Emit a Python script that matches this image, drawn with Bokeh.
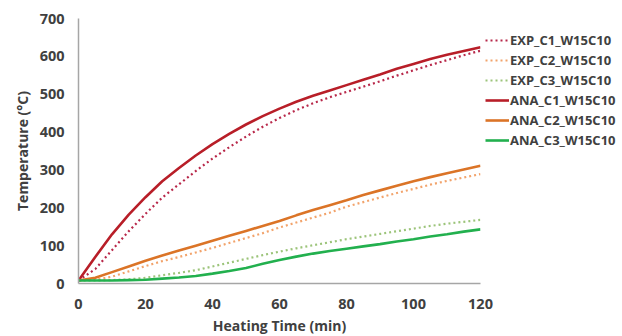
from bokeh.plotting import figure
from bokeh.models import Legend, LegendItem, Range1d, FixedTicker
from bokeh.embed import file_html
from bokeh.resources import INLINE

time = [0, 5, 10, 15, 20, 25, 30, 35, 40, 45, 50, 55, 60, 65, 70, 75, 80, 85, 90, 95, 100, 105, 110, 115, 120]

exp_c1 = [8, 38, 88, 138, 184, 227, 262, 297, 330, 360, 388, 414, 437, 458, 476, 492, 506, 520, 534, 549, 563, 577, 590, 603, 615]
exp_c2 = [8, 10, 18, 32, 46, 59, 70, 82, 94, 107, 120, 133, 148, 161, 174, 187, 203, 215, 227, 239, 250, 261, 271, 280, 289]
exp_c3 = [8, 8, 9, 11, 15, 22, 28, 35, 45, 55, 65, 75, 84, 93, 101, 109, 117, 124, 131, 138, 145, 152, 158, 163, 168]
ana_c1 = [8, 70, 130, 182, 228, 270, 305, 338, 368, 395, 420, 442, 462, 480, 496, 510, 524, 538, 552, 567, 580, 593, 604, 614, 624]
ana_c2 = [8, 15, 30, 45, 60, 74, 87, 100, 113, 126, 139, 152, 165, 180, 194, 207, 220, 234, 246, 258, 270, 281, 291, 301, 311]
ana_c3 = [8, 8, 8, 9, 10, 13, 16, 20, 26, 33, 41, 52, 62, 71, 79, 86, 92, 98, 104, 111, 117, 124, 130, 137, 143]

series_names = ["EXP_C1_W15C10", "EXP_C2_W15C10", "EXP_C3_W15C10",
                "ANA_C1_W15C10", "ANA_C2_W15C10", "ANA_C3_W15C10"]
x_ticks = [0, 20, 40, 60, 80, 100, 120]
y_ticks = [0, 100, 200, 300, 400, 500, 600, 700]

FONT = "Open Sans"
TXT = "#404040"

p = figure(output_backend="svg", toolbar_location=None,
           frame_width=402, frame_height=265,
           x_range=Range1d(0, 120), y_range=Range1d(0, 700),
           min_border_left=78, min_border_top=18, min_border_bottom=0,
           min_border_right=0)
p.background_fill_color = "white"
p.outline_line_color = None
p.xgrid.visible = False
p.ygrid.visible = False

styles = [
    (exp_c1, "#B8284A", "dotted"),
    (exp_c2, "#F2A36B", "dotted"),
    (exp_c3, "#9CC47A", "dotted"),
    (ana_c1, "#B81E28", "solid"),
    (ana_c2, "#DB7427", "solid"),
    (ana_c3, "#22B04E", "solid"),
]
items = []
for (vals, col, kind), name in zip(styles, series_names):
    if kind == "dotted":
        r = p.line(time, vals, line_color=col, line_width=2.2, line_dash="2 3")
    else:
        r = p.line(time, vals, line_color=col, line_width=2.6)
    items.append(LegendItem(label=name, renderers=[r]))

for ax in (p.xaxis[0], p.yaxis[0]):
    ax.axis_line_color = "#A6A6A6"
    ax.axis_line_width = 1.5
    ax.major_tick_line_color = None
    ax.minor_tick_line_color = None
    ax.major_tick_out = 0
    ax.major_tick_in = 0
    ax.minor_tick_out = 0
    ax.minor_tick_in = 0
    ax.major_label_text_font = FONT
    ax.major_label_text_font_style = "bold"
    ax.major_label_text_font_size = "14.5px"
    ax.major_label_text_color = TXT
    ax.axis_label_text_font = FONT
    ax.axis_label_text_font_style = "bold"
    ax.axis_label_text_font_size = "14px"
    ax.axis_label_text_color = TXT

p.xaxis[0].ticker = FixedTicker(ticks=x_ticks)
p.yaxis[0].ticker = FixedTicker(ticks=y_ticks)
p.xaxis[0].axis_label = "Heating Time (min)"
p.yaxis[0].axis_label = "Temperature (°C)"
p.xaxis[0].major_label_standoff = 15
p.yaxis[0].major_label_standoff = 14
p.xaxis[0].axis_label_standoff = 4
p.yaxis[0].axis_label_standoff = 5

legend = Legend(items=items, location=(5, 133))
legend.border_line_color = None
legend.background_fill_alpha = 0
legend.padding = 0
legend.margin = 0
legend.spacing = 0
legend.glyph_width = 24
legend.glyph_height = 20
legend.label_height = 20
legend.label_standoff = 1
legend.label_text_font = FONT
legend.label_text_font_style = "bold"
legend.label_text_font_size = "13px"
legend.label_text_color = TXT
p.add_layout(legend, "right")

open("out.html", "w").write(file_html(p, INLINE))
